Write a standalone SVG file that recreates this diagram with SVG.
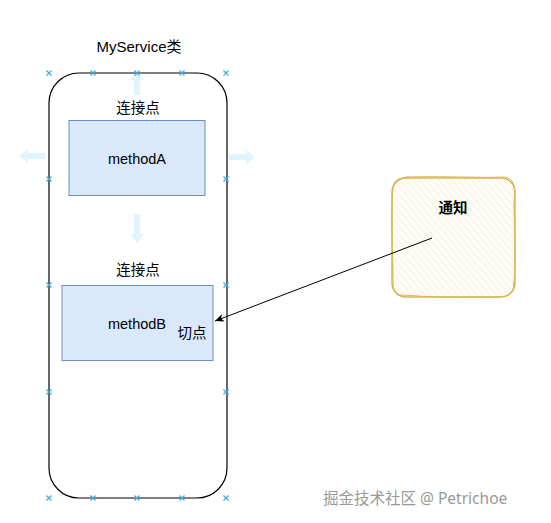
<svg xmlns="http://www.w3.org/2000/svg" width="551" height="523" viewBox="0 0 551 523">
<defs>
<style>
text{font-family:"Liberation Sans","Noto Sans CJK SC",sans-serif;font-size:14.5px;fill:#000;text-anchor:middle}
.box{fill:#dae8fc;stroke:#6c8ebf;stroke-width:1}
.hint{fill:#29b6f2;opacity:0.15}
.xm{stroke:#3fa9dd;stroke-width:1.2}
.wm{fill:#999;font-size:15.5px;text-anchor:start}
</style>
<pattern id="hatch" width="5" height="5" patternUnits="userSpaceOnUse" patternTransform="rotate(-40)">
<rect width="5" height="5" fill="#fffdf8"/>
<line x1="0" y1="0" x2="0" y2="5" stroke="#f4e8d2" stroke-width="1.2"/>
</pattern>
<marker id="ah" markerWidth="10" markerHeight="10" refX="9" refY="5" orient="auto" markerUnits="userSpaceOnUse">
<path d="M0,1 L9,5 L0,9 L2.5,5 Z" fill="#000"/>
</marker>
<g id="x"><path class="xm" d="M-2.5,-2.5 L2.5,2.5 M-2.5,2.5 L2.5,-2.5"/></g>
</defs>
<rect width="551" height="523" fill="#fff"/>
<g id="container">
<text x="139" y="52" style="font-size:15px">MyService类</text>
<rect x="49" y="73" width="178" height="425" rx="30" fill="#fff" stroke="#000" stroke-width="1.2"/>
</g>
<g id="hints">
<path class="hint" d="M134,95 L134,80 L130,80 L137,72 L144,80 L140,80 L140,95 Z"/>
<path class="hint" d="M45,153 L28,153 L28,149 L19,156 L28,163 L28,159 L45,159 Z"/>
<path class="hint" d="M229,154 L246,154 L246,150 L255,157 L246,164 L246,160 L229,160 Z"/>
<path class="hint" d="M134,214 L134,234 L130,234 L137,243 L144,234 L140,234 L140,214 Z"/>
</g>
<g id="methodA">
<text x="138" y="113">连接点</text>
<rect class="box" x="69" y="120.5" width="136" height="75"/>
<text x="137" y="164">methodA</text>
</g>
<g id="methodB">
<text x="138" y="275">连接点</text>
<rect class="box" x="62" y="285.5" width="151" height="75"/>
<text x="137" y="329">methodB</text>
<text x="192" y="338">切点</text>
</g>
<g id="notify">
<rect x="392" y="178" width="123" height="119" rx="14" fill="url(#hatch)" stroke="#d6b656" stroke-width="1.5"/>
<path d="M405,177 C440,176 480,178 505,177 C516,179 515,190 514,205 C515,240 516,270 513,290 C510,298 500,297 480,297 C440,298 420,296 400,295 C392,293 393,285 393,270 C392,240 391,210 393,188 C394,180 398,177 410,178" fill="none" stroke="#d6b656" stroke-width="1"/>
<text x="453" y="213" style="font-weight:bold">通知</text>
</g>
<g id="connectors">
<line x1="432" y1="238" x2="215" y2="321" stroke="#000" stroke-width="1" marker-end="url(#ah)"/>
</g>
<g id="markers">
<use href="#x" x="49" y="73"/><use href="#x" x="93" y="73"/><use href="#x" x="137" y="73"/><use href="#x" x="182" y="73"/><use href="#x" x="226" y="73"/>
<use href="#x" x="49" y="498"/><use href="#x" x="93" y="498"/><use href="#x" x="137" y="498"/><use href="#x" x="182" y="498"/><use href="#x" x="226" y="498"/>
<use href="#x" x="49" y="179"/><use href="#x" x="49" y="285"/><use href="#x" x="49" y="392"/>
<use href="#x" x="226" y="179"/><use href="#x" x="226" y="285"/><use href="#x" x="226" y="392"/>
</g>
<text class="wm" x="323" y="504" style="font-family:'Noto Sans','Noto Sans CJK SC',sans-serif">掘金技术社区 @ Petrichoe</text>
</svg>
